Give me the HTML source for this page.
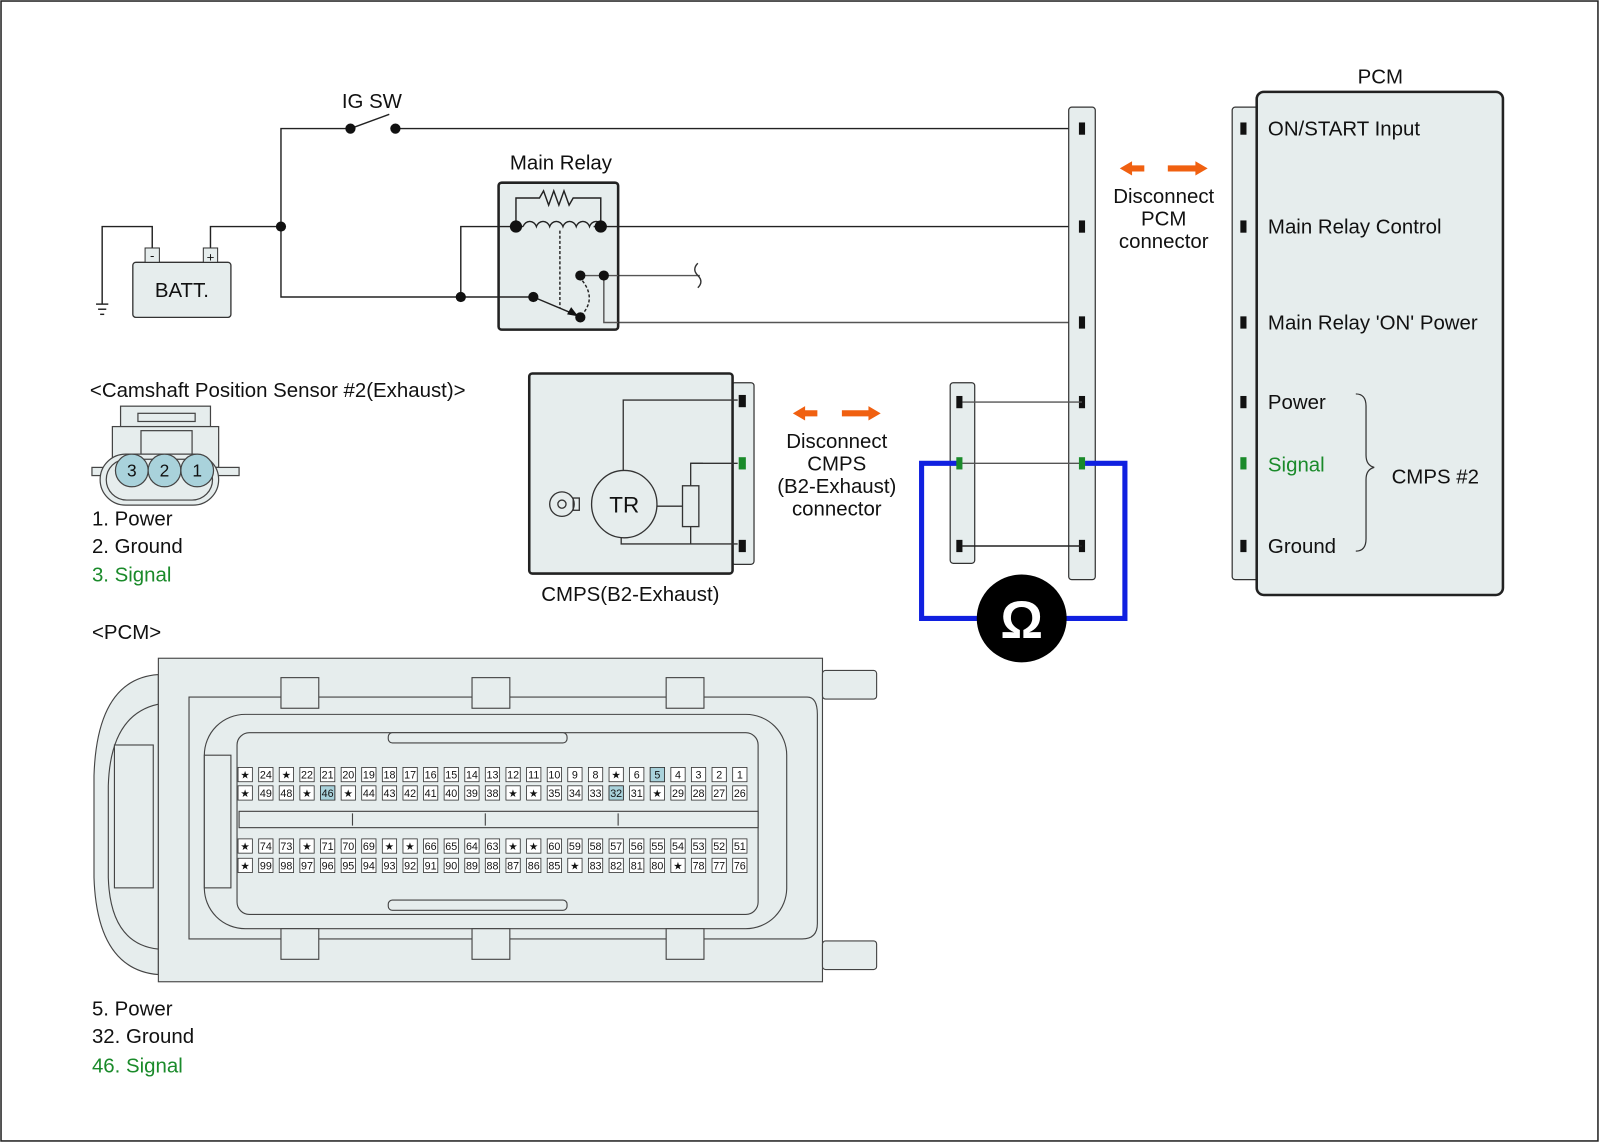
<!DOCTYPE html>
<html><head><meta charset="utf-8"><style>
html,body{margin:0;padding:0;background:#fff}
svg{display:block}
text{font-family:"Liberation Sans",sans-serif;fill:#111}
</style></head><body>
<svg width="1600" height="1143" viewBox="0 0 1566 1120" preserveAspectRatio="none" xmlns="http://www.w3.org/2000/svg">
<defs>
<rect id="b" x="-7" y="-7" width="14" height="14" fill="#fff" stroke="#333" stroke-width="0.8"/>
</defs>
<rect x="1" y="1" width="1563" height="1117" fill="#fff" stroke="#222" stroke-width="1.5"/>

<!-- Top wiring -->
<g stroke="#222" stroke-width="1.4" fill="none">
<polyline points="275,222 275,126 343,126"/>
<line x1="343" y1="126" x2="381" y2="112"/>
<line x1="387" y1="126" x2="1060" y2="126"/>
<polyline points="149,250 149,222 100,222 100,298"/>
<line x1="94" y1="298" x2="106" y2="298"/><line x1="96" y1="303" x2="104" y2="303"/><line x1="98" y1="308" x2="102" y2="308"/>
<polyline points="206,250 206,222 275,222 275,291 522,291"/>
<polyline points="451,291 451,222 505,222"/>
<line x1="588" y1="222" x2="1060" y2="222"/>
<line x1="591" y1="270" x2="685" y2="270" stroke="#555"/>
<polyline points="591,316 1060,316" stroke="#555"/>
<path d="M683,258 q-6,6 0,12 q6,6 0,12" stroke="#333"/>
</g>
<text x="364" y="106" font-size="20" text-anchor="middle">IG SW</text>
<circle cx="343" cy="126" r="5" fill="#111"/><circle cx="387" cy="126" r="5" fill="#111"/>
<circle cx="275" cy="222" r="5" fill="#111"/><circle cx="451" cy="291" r="5" fill="#111"/>

<!-- Battery -->
<rect x="130" y="257" width="96" height="54" rx="3" fill="#e6eded" stroke="#333" stroke-width="1.3"/>
<rect x="142" y="243" width="14" height="14" fill="#e6eded" stroke="#333"/>
<rect x="199" y="243" width="14" height="14" fill="#e6eded" stroke="#333"/>
<text x="149" y="255" font-size="13" text-anchor="middle">-</text>
<text x="206" y="256" font-size="13" text-anchor="middle">+</text>
<text x="178" y="291" font-size="20" text-anchor="middle">BATT.</text>

<!-- Main relay -->
<text x="549" y="166" font-size="20" text-anchor="middle">Main Relay</text>
<rect x="488" y="179" width="117" height="144" rx="3" fill="#e6eded" stroke="#222" stroke-width="2.5"/>
<g stroke="#222" stroke-width="1.4" fill="none">
<line x1="488" y1="291" x2="522" y2="291"/>
<line x1="488" y1="222" x2="505" y2="222"/>
<line x1="588" y1="222" x2="605" y2="222"/>
<polyline points="568,270 605,270" stroke="#555"/>
<polyline points="591,270 591,316 605,316" stroke="#555"/>
<polyline points="505,222 505,194 528,194 532,187 537,201 542,187 547,201 552,187 557,201 561,194 588,194 588,222"/>
<path d="M512,222 a7,8 0 0 1 13,0 a7,8 0 0 1 13,0 a7,8 0 0 1 13,0 a7,8 0 0 1 13,0 a7,8 0 0 1 13,0 a7,8 0 0 1 13,0"/>
<line x1="505" y1="222" x2="512" y2="222"/><line x1="581" y1="222" x2="588" y2="222"/>
<line x1="548" y1="226" x2="548" y2="302" stroke-dasharray="3,2"/>
<path d="M570,275 q14,18 -1,34" stroke-dasharray="3,2"/>
<line x1="522" y1="291" x2="560" y2="307"/>
</g>
<polygon points="566,310 555,308 559,301" fill="#111"/>
<circle cx="505" cy="222" r="6" fill="#111"/><circle cx="588" cy="222" r="6" fill="#111"/>
<circle cx="522" cy="291" r="5" fill="#111"/><circle cx="568" cy="311" r="5" fill="#111"/>
<circle cx="568" cy="270" r="5" fill="#111"/><circle cx="591" cy="270" r="5" fill="#111"/>

<!-- PCM connector bar -->
<rect x="1046" y="105" width="26" height="463" rx="3" fill="#e6eded" stroke="#333" stroke-width="1.2"/>
<g fill="#111">
<rect x="1056" y="120" width="6" height="12"/><rect x="1056" y="216" width="6" height="12"/><rect x="1056" y="310" width="6" height="12"/>
<rect x="1056" y="388" width="6" height="12"/><rect x="1056" y="529" width="6" height="12"/>
</g>
<!-- small connector bar -->
<rect x="930" y="375" width="24" height="177" rx="3" fill="#e6eded" stroke="#333" stroke-width="1.2"/>
<g stroke="#555" stroke-width="1.4">
<line x1="942" y1="394" x2="1059" y2="394"/><line x1="942" y1="454" x2="1059" y2="454"/><line x1="942" y1="535" x2="1059" y2="535" stroke="#222"/>
</g>
<polyline points="940,454 902,454 902,606 1101,606 1101,454 1062,454" fill="none" stroke="#1020e0" stroke-width="5"/>
<rect x="936" y="388" width="6" height="12" fill="#111"/><rect x="936" y="529" width="6" height="12" fill="#111"/>
<rect x="936" y="448" width="6" height="12" fill="#1a8a2a"/>
<rect x="1056" y="448" width="6" height="12" fill="#1a8a2a"/>
<ellipse cx="1000" cy="606" rx="44" ry="43" fill="#000"/>
<text x="1000" y="625" font-size="52" font-weight="bold" text-anchor="middle" style="fill:#fff">Ω</text>

<!-- Orange arrows -->
<g fill="#f06010">
<polygon points="1096,165 1108,158 1108,162 1120,162 1120,168 1108,168 1108,172"/>
<polygon points="1182,165 1170,158 1170,162 1143,162 1143,168 1170,168 1170,172"/>
<polygon points="776,405 788,398 788,402 800,402 800,408 788,408 788,412"/>
<polygon points="862,405 850,398 850,402 824,402 824,408 850,408 850,412"/>
</g>
<g font-size="20" text-anchor="middle">
<text x="1139" y="199">Disconnect</text><text x="1139" y="221">PCM</text><text x="1139" y="243">connector</text>
<text x="819" y="439">Disconnect</text><text x="819" y="461">CMPS</text><text x="819" y="483">(B2-Exhaust)</text><text x="819" y="505">connector</text>
</g>

<!-- PCM box -->
<text x="1351" y="82" font-size="20" text-anchor="middle">PCM</text>
<rect x="1206" y="105" width="28" height="463" rx="3" fill="#e6eded" stroke="#333" stroke-width="1.2"/>
<rect x="1230" y="90" width="241" height="493" rx="7" fill="#e6eded" stroke="#222" stroke-width="2.5"/>
<g fill="#111">
<rect x="1214" y="120" width="6" height="12"/><rect x="1214" y="216" width="6" height="12"/><rect x="1214" y="310" width="6" height="12"/>
<rect x="1214" y="388" width="6" height="12"/><rect x="1214" y="529" width="6" height="12"/>
</g>
<rect x="1214" y="448" width="6" height="12" fill="#1a8a2a"/>
<g font-size="20">
<text x="1241" y="133">ON/START Input</text>
<text x="1241" y="229">Main Relay Control</text>
<text x="1241" y="323">Main Relay 'ON' Power</text>
<text x="1241" y="401">Power</text>
<text x="1241" y="462" style="fill:#1a8a2a">Signal</text>
<text x="1241" y="542">Ground</text>
<text x="1362" y="474">CMPS #2</text>
</g>
<path d="M1327,386 q10,0 10,12 L1337,446 q0,10 8,12 q-8,2 -8,12 L1337,528 q0,12 -10,12" fill="none" stroke="#333" stroke-width="1.2"/>

<!-- CMPS sensor -->
<rect x="716" y="375" width="22" height="178" rx="3" fill="#e6eded" stroke="#333" stroke-width="1.2"/>
<rect x="518" y="366" width="199" height="196" rx="3" fill="#e6eded" stroke="#222" stroke-width="2.5"/>
<g stroke="#333" stroke-width="1.3" fill="none">
<polyline points="610,462 610,392 722,392"/>
<polyline points="676,454 722,454"/><polyline points="688,454 676,454 676,476"/>
<rect x="668" y="476" width="16" height="40"/>
<line x1="643" y1="496" x2="668" y2="496"/>
<polyline points="608,526 608,533 722,533"/><line x1="676" y1="516" x2="676" y2="533"/>
<ellipse cx="611" cy="494" rx="32" ry="33" fill="#e6eded"/>
<circle cx="550" cy="494" r="12"/><circle cx="550" cy="494" r="4"/>
<rect x="561" y="488" width="6" height="12"/>
</g>
<text x="611" y="502" font-size="22" text-anchor="middle">TR</text>
<rect x="723" y="387" width="7" height="12" fill="#111"/><rect x="723" y="448" width="7" height="12" fill="#1a8a2a"/><rect x="723" y="529" width="7" height="12" fill="#111"/>
<text x="617" y="589" font-size="20" text-anchor="middle">CMPS(B2-Exhaust)</text>

<!-- Camshaft connector -->
<text x="88" y="389" font-size="20">&lt;Camshaft Position Sensor #2(Exhaust)&gt;</text>
<g stroke="#444" stroke-width="1.2" fill="#e6eded">
<rect x="118" y="398" width="88" height="20"/>
<rect x="135" y="405" width="56" height="8"/>
<rect x="110" y="418" width="104" height="40"/>
<rect x="138" y="422" width="50" height="32"/>
<rect x="90" y="458" width="144" height="8"/>
<rect x="98" y="445" width="116" height="50" rx="25"/>
<rect x="104" y="450" width="104" height="40" rx="20"/>
<circle cx="129" cy="461" r="16" fill="#a9d2db"/><circle cx="161" cy="461" r="16" fill="#a9d2db"/><circle cx="193" cy="461" r="16" fill="#a9d2db"/>
</g>
<g font-size="17" text-anchor="middle"><text x="129" y="467">3</text><text x="161" y="467">2</text><text x="193" y="467">1</text></g>
<g font-size="20">
<text x="90" y="515">1. Power</text>
<text x="90" y="542">2. Ground</text>
<text x="90" y="570" style="fill:#1a8a2a">3. Signal</text>
<text x="90" y="626">&lt;PCM&gt;</text>
<text x="90" y="995">5. Power</text>
<text x="90" y="1022">32. Ground</text>
<text x="90" y="1051" style="fill:#1a8a2a">46. Signal</text>
</g>

<!-- PCM connector drawing -->
<g stroke="#444" stroke-width="1.1" fill="#e6eded">
<path d="M155,661 Q95,665 92,760 L92,860 Q95,950 155,955 Z"/>
<path d="M155,690 Q108,700 106,770 L106,860 Q108,925 155,930" fill="none"/>
<rect x="112" y="730" width="38" height="140"/>
<rect x="155" y="645" width="650" height="317"/>
<rect x="805" y="657" width="53" height="28" rx="3"/>
<rect x="805" y="922" width="53" height="28" rx="3"/>
<path d="M185,683 L790,683 Q800,683 800,700 L800,905 Q800,920 785,920 L185,920 Z" fill="#e6eded"/>
<rect x="200" y="700" width="570" height="210" rx="40"/>
<rect x="232" y="718" width="510" height="178" rx="12"/>
<rect x="275" y="664" width="37" height="30"/><rect x="462" y="664" width="37" height="30"/><rect x="652" y="664" width="37" height="30"/>
<rect x="275" y="910" width="37" height="30"/><rect x="462" y="910" width="37" height="30"/><rect x="652" y="910" width="37" height="30"/>
<rect x="380" y="718" width="175" height="10" rx="4"/><rect x="380" y="882" width="175" height="10" rx="4"/>
<rect x="234" y="795" width="508" height="16"/>
<line x1="345" y1="797" x2="345" y2="809"/><line x1="475" y1="797" x2="475" y2="809"/><line x1="605" y1="797" x2="605" y2="809"/>
<rect x="200" y="740" width="26" height="130"/>
</g>
<g font-family="Liberation Sans" font-size="10.5" text-anchor="middle">
<g id="r1">
<use href="#b" x="240" y="759"/><use href="#b" x="260.2" y="759"/><use href="#b" x="280.3" y="759"/><use href="#b" x="300.5" y="759"/><use href="#b" x="320.7" y="759"/><use href="#b" x="340.9" y="759"/><use href="#b" x="361" y="759"/><use href="#b" x="381.2" y="759"/><use href="#b" x="401.4" y="759"/><use href="#b" x="421.5" y="759"/><use href="#b" x="441.7" y="759"/><use href="#b" x="461.9" y="759"/><use href="#b" x="482" y="759"/><use href="#b" x="502.2" y="759"/><use href="#b" x="522.4" y="759"/><use href="#b" x="542.6" y="759"/><use href="#b" x="562.7" y="759"/><use href="#b" x="582.9" y="759"/><use href="#b" x="603.1" y="759"/><use href="#b" x="623.2" y="759"/><use href="#b" x="643.4" y="759"/><use href="#b" x="663.6" y="759"/><use href="#b" x="683.7" y="759"/><use href="#b" x="703.9" y="759"/><use href="#b" x="724.1" y="759"/>
</g>
<use href="#r1" y="18"/><use href="#r1" y="70"/><use href="#r1" y="89"/>
<rect x="636.4" y="752" width="14" height="14" fill="#a9d2db" stroke="#333" stroke-width="0.8"/>
<rect x="313.7" y="770" width="14" height="14" fill="#a9d2db" stroke="#333" stroke-width="0.8"/>
<rect x="596.1" y="770" width="14" height="14" fill="#a9d2db" stroke="#333" stroke-width="0.8"/>
<g>
<text x="240" y="763">★</text><text x="260.2" y="763">24</text><text x="280.3" y="763">★</text><text x="300.5" y="763">22</text><text x="320.7" y="763">21</text><text x="340.9" y="763">20</text><text x="361" y="763">19</text><text x="381.2" y="763">18</text><text x="401.4" y="763">17</text><text x="421.5" y="763">16</text><text x="441.7" y="763">15</text><text x="461.9" y="763">14</text><text x="482" y="763">13</text><text x="502.2" y="763">12</text><text x="522.4" y="763">11</text><text x="542.6" y="763">10</text><text x="562.7" y="763">9</text><text x="582.9" y="763">8</text><text x="603.1" y="763">★</text><text x="623.2" y="763">6</text><text x="643.4" y="763">5</text><text x="663.6" y="763">4</text><text x="683.7" y="763">3</text><text x="703.9" y="763">2</text><text x="724.1" y="763">1</text>
</g>
<g>
<text x="240" y="781">★</text><text x="260.2" y="781">49</text><text x="280.3" y="781">48</text><text x="300.5" y="781">★</text><text x="320.7" y="781">46</text><text x="340.9" y="781">★</text><text x="361" y="781">44</text><text x="381.2" y="781">43</text><text x="401.4" y="781">42</text><text x="421.5" y="781">41</text><text x="441.7" y="781">40</text><text x="461.9" y="781">39</text><text x="482" y="781">38</text><text x="502.2" y="781">★</text><text x="522.4" y="781">★</text><text x="542.6" y="781">35</text><text x="562.7" y="781">34</text><text x="582.9" y="781">33</text><text x="603.1" y="781">32</text><text x="623.2" y="781">31</text><text x="643.4" y="781">★</text><text x="663.6" y="781">29</text><text x="683.7" y="781">28</text><text x="703.9" y="781">27</text><text x="724.1" y="781">26</text>
</g>
<g>
<text x="240" y="833">★</text><text x="260.2" y="833">74</text><text x="280.3" y="833">73</text><text x="300.5" y="833">★</text><text x="320.7" y="833">71</text><text x="340.9" y="833">70</text><text x="361" y="833">69</text><text x="381.2" y="833">★</text><text x="401.4" y="833">★</text><text x="421.5" y="833">66</text><text x="441.7" y="833">65</text><text x="461.9" y="833">64</text><text x="482" y="833">63</text><text x="502.2" y="833">★</text><text x="522.4" y="833">★</text><text x="542.6" y="833">60</text><text x="562.7" y="833">59</text><text x="582.9" y="833">58</text><text x="603.1" y="833">57</text><text x="623.2" y="833">56</text><text x="643.4" y="833">55</text><text x="663.6" y="833">54</text><text x="683.7" y="833">53</text><text x="703.9" y="833">52</text><text x="724.1" y="833">51</text>
</g>
<g>
<text x="240" y="852">★</text><text x="260.2" y="852">99</text><text x="280.3" y="852">98</text><text x="300.5" y="852">97</text><text x="320.7" y="852">96</text><text x="340.9" y="852">95</text><text x="361" y="852">94</text><text x="381.2" y="852">93</text><text x="401.4" y="852">92</text><text x="421.5" y="852">91</text><text x="441.7" y="852">90</text><text x="461.9" y="852">89</text><text x="482" y="852">88</text><text x="502.2" y="852">87</text><text x="522.4" y="852">86</text><text x="542.6" y="852">85</text><text x="562.7" y="852">★</text><text x="582.9" y="852">83</text><text x="603.1" y="852">82</text><text x="623.2" y="852">81</text><text x="643.4" y="852">80</text><text x="663.6" y="852">★</text><text x="683.7" y="852">78</text><text x="703.9" y="852">77</text><text x="724.1" y="852">76</text>
</g>
</g>
</svg>
</body></html>
